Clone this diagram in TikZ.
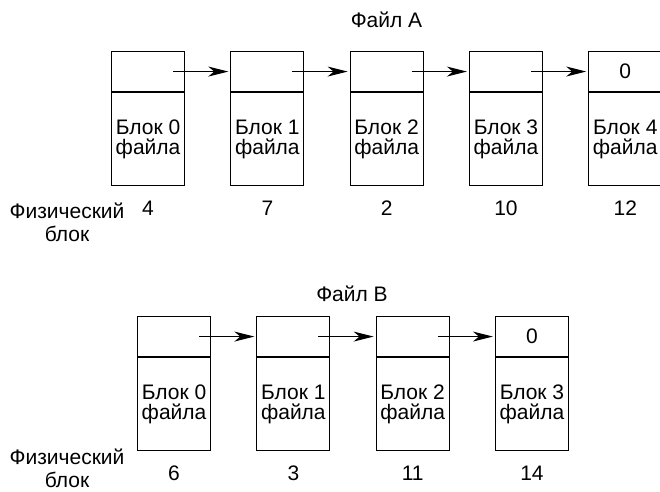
\documentclass[tikz,border=0pt]{standalone}
\usepackage{fontspec}
\setmainfont{Liberation Sans}
\usetikzlibrary{arrows.meta}
\begin{document}
\begin{tikzpicture}[x=1pt,y=-1pt,
  every node/.style={font=\fontsize{21}{20}\selectfont, inner sep=0pt},
  topcell/.style={draw, line width=1.1pt, minimum width=73pt, minimum height=40pt, anchor=north west},
  botcell/.style={draw, line width=1.1pt, minimum width=73pt, minimum height=93pt, anchor=north, align=center},
  link/.style={line width=1.1pt, shorten >=2pt, -{Stealth[length=20pt,width=10pt,inset=6pt]}},
  num/.style={anchor=base},
  phys/.style={align=center, font=\fontsize{21}{23}\selectfont}]
\useasboundingbox (0,0) rectangle (660,491);
% File A
\node[anchor=base] (fa) at (386.5,27.7) {Файл A};
\foreach \i/\lbl/\n in {0/0/4,1/1/7,2/2/2,3/3/10,4/4/12}{
  \node[topcell] (a\i t) at ({111+119.3*\i},51) {};
  \node[botcell] (a\i b) at (a\i t.south) {Блок \lbl\\файла};
  \node[num] (a\i n) at ([yshift=-29pt]a\i b.south) {\n};
}
\node at (a4t.center) {0};
\foreach \i/\j in {0/1,1/2,2/3,3/4}{
  \coordinate (as\i) at ([xshift=-12pt]a\i t.east);
  \draw[link] (as\i) -- (a\j t.west);
}
\node[phys] (pa) at (67,222) {Физический\\блок};
% File B
\node[anchor=base] (fb) at (352,301.7) {Файл B};
\foreach \i/\lbl/\n in {0/0/6,1/1/3,2/2/11,3/3/14}{
  \node[topcell] (b\i t) at ({137+119.3*\i},316) {};
  \node[botcell] (b\i b) at (b\i t.south) {Блок \lbl\\файла};
  \node[num] (b\i n) at ([yshift=-29pt]b\i b.south) {\n};
}
\node at (b3t.center) {0};
\foreach \i/\j in {0/1,1/2,2/3}{
  \coordinate (bs\i) at ([xshift=-12pt]b\i t.east);
  \draw[link] (bs\i) -- (b\j t.west);
}
\node[phys] (pb) at (67,468.5) {Физический\\блок};
\end{tikzpicture}
\end{document}
